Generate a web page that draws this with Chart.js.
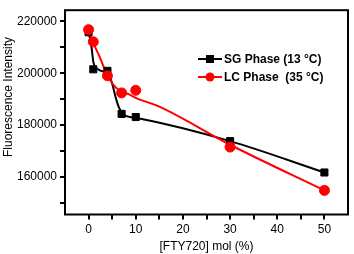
<!DOCTYPE html>
<html><head><meta charset="utf-8">
<script src="https://cdn.jsdelivr.net/npm/chart.js@4"></script>
<style>html,body{margin:0;padding:0;background:#fff}#w{width:354px;height:254px}</style>
</head><body><div id="w"><canvas id="c"></canvas></div>
<script>
const xValues = [0, 1, 4, 7, 10, 30, 50];
const sgValues = [215800, 201500, 200900, 184300, 183100, 173800, 161700];
const lcValues = [216800, 212100, 199000, 192400, 193400, 171500, 154800];
// smoothed fit curves
const sgFitX = [0, 0.6, 1.05, 2, 3.3, 4.3, 5.1, 5.8, 6.5, 7.5, 9.2, 10, 30, 50];
const sgFitY = [216000, 210300, 204000, 201500, 200500, 199600, 195300, 190300, 186500, 184000, 183000, 182800, 173800, 161700];
const lcFitX = [0, 0.9, 2.3, 3.7, 5.1, 6.5, 8.6, 10, 15, 30, 50];
const lcFitY = [216800, 212100, 206500, 200300, 195900, 193400, 191800, 190500, 187100, 172400, 154800];
const yTicks = [150000,160000,170000,180000,190000,200000,210000,220000];
const xTicks = [0,5,10,15,20,25,30,35,40,45,50];
const seriesNames = ['SG Phase (13 \u00B0C)', 'LC Phase  (35 \u00B0C)'];
const yTitle = 'Fluorescence Intensity';

const F = 'Liberation Sans, Arial, sans-serif';

const framePlugin = {
  id: 'frame',
  afterDraw(chart) {
    const {ctx, chartArea: a} = chart;
    ctx.save();
    ctx.strokeStyle = '#000'; ctx.lineWidth = 2;
    ctx.strokeRect(a.left, a.top, a.right - a.left, a.bottom - a.top);
    // y title
    ctx.save();
    ctx.translate(9, 97); ctx.rotate(-Math.PI/2);
    ctx.font = '12px ' + F; ctx.fillStyle = '#000'; ctx.textAlign = 'center'; ctx.textBaseline = 'middle';
    ctx.fillText(yTitle, 0, 0);
    ctx.restore();
    // legend
    const items = [{c:'#000', s:'rect', t: seriesNames[0], y: 59},{c:'#ff0000', s:'circle', t: seriesNames[1], y: 77}];
    ctx.font = 'bold 12px ' + F;
    ctx.textBaseline = 'middle';
    items.forEach(it => {
      ctx.strokeStyle = it.c; ctx.fillStyle = it.c; ctx.lineWidth = 2;
      ctx.beginPath(); ctx.moveTo(198, it.y); ctx.lineTo(222, it.y); ctx.stroke();
      if (it.s === 'rect') ctx.fillRect(206, it.y - 4, 8, 8);
      else { ctx.beginPath(); ctx.arc(210, it.y, 4.5, 0, Math.PI*2); ctx.fill(); }
      ctx.fillStyle = '#000';
      ctx.fillText(it.t, 224, it.y + 1);
    });
    ctx.restore();
  }
};

const pts = (xs, ys) => xs.map((x,i)=>({x, y: ys[i]}));

new Chart(document.getElementById('c'), {
  type: 'line',
  data: {
    datasets: [
      { label: seriesNames[0], data: pts(xValues, sgValues), showLine: false, borderColor:'#000', backgroundColor:'#000', pointStyle:'rect', pointRadius:5, pointHoverRadius:5, order: 1 },
      { label: seriesNames[1], data: pts(xValues, lcValues), showLine: false, borderColor:'#ff0000', backgroundColor:'#ff0000', pointStyle:'circle', pointRadius:5, pointHoverRadius:5, order: 0 },
      { label: 'sgfit', data: pts(sgFitX, sgFitY), borderColor:'#000', borderWidth:2, pointRadius:0, cubicInterpolationMode:'monotone', order: 3 },
      { label: 'lcfit', data: pts(lcFitX, lcFitY), borderColor:'#ff0000', borderWidth:2, pointRadius:0, cubicInterpolationMode:'monotone', order: 2 }
    ]
  },
  options: {
    responsive: true, maintainAspectRatio: false, animation: false,
    layout: { padding: { top: 3.5, right: 3, left: 0, bottom: 0 } },
    plugins: { legend: { display: false }, tooltip: { enabled: false } },
    scales: {
      x: {
        type: 'linear', min: -5, max: 55,
        afterBuildTicks: s => { s.ticks = xTicks.map(v => ({value: v})); },
        afterFit: s => { s.height = 39.5; },
        border: { display: false },
        grid: { drawOnChartArea: false, drawTicks: true, tickLength: 5, color: '#000', lineWidth: 2 },
        ticks: { color: '#000', font: { family: F, size: 12 }, padding: 3, maxRotation: 0, autoSkip: false,
          callback: v => (v % 10 === 0 ? String(v) : '') },
        title: { display: true, text: '[FTY720] mol (%)', color: '#000', font: { family: F, size: 12 }, padding: { top: 0, bottom: 0 } }
      },
      y: {
        min: 145500, max: 224300,
        afterBuildTicks: s => { s.ticks = yTicks.map(v => ({value: v})); },
        afterFit: s => { s.width = 65; },
        border: { display: false },
        grid: { drawOnChartArea: false, drawTicks: true, tickLength: 5, color: '#000', lineWidth: 2 },
        ticks: { color: '#000', font: { family: F, size: 12 }, padding: 3, autoSkip: false,
          callback: v => (v % 20000 === 0 ? String(v) : '') },
        title: { display: false }
      }
    }
  },
  plugins: [framePlugin]
});
</script></body></html>
